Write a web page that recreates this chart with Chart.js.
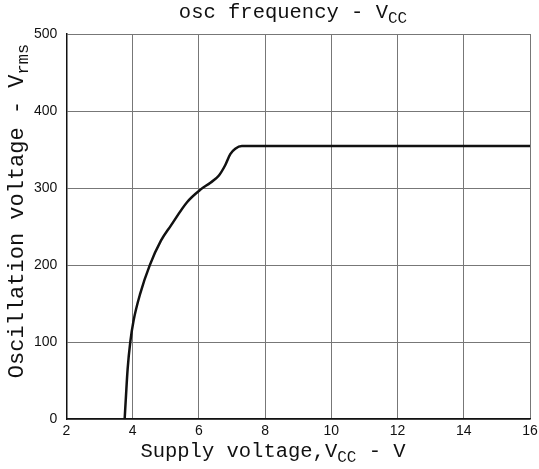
<!DOCTYPE html>
<html lang="en">
<head>
    <meta charset="UTF-8">
    <title>osc frequency - VCC</title>
    <script src="https://cdn.jsdelivr.net/npm/chart.js"></script>
    <style>
        body {
            margin: 0;
            background: white;
        }
        .container {
            width: 539px;
            height: 469px;
        }
    </style>
</head>
<body>
    <div class="container">
        <canvas id="oscChart"></canvas>
    </div>

    <script>
        // supply voltage (V) and oscillation voltage (Vrms)
        let supplyVoltage = [3.76, 3.80, 3.85, 3.93, 4.03, 4.23, 4.52, 4.86, 5.15, 5.65, 6.05, 6.35, 6.60, 6.80, 6.95, 7.10, 7.30, 8,     10,    12,    14,    16];
        let oscVoltage    = [0,    30,   65,   100,  128,  163,  200,  232,  251,  282,  298,  307,  316,  330,  344,  351,  354.5, 354.5, 354.5, 354.5, 354.5, 354.5];
        let xTicks = [2, 4, 6, 8, 10, 12, 14, 16];
        let yTicks = [0, 100, 200, 300, 400, 500];

        // titles with their subscript parts
        let chartTitle = [{ t: 'osc frequency - V' }, { t: 'CC', sub: true }];
        let xTitle = [{ t: 'Supply voltage,V' }, { t: 'CC', sub: true }, { t: ' - V' }];
        let yTitle = [{ t: 'Oscillation voltage - V' }, { t: 'rms', sub: true }];

        let points = supplyVoltage.map((v, i) => ({ x: v, y: oscVoltage[i] }));

        let mono = "'Liberation Mono', 'DejaVu Sans Mono', monospace";
        let tickFont = { family: "'Liberation Sans', Arial, sans-serif", size: 14 };

        function drawRich(ctx, parts, cx, cy, size) {
            let subSize = Math.round(size * 0.78);
            let widths = parts.map(p => {
                ctx.font = (p.sub ? subSize : size) + 'px ' + mono;
                return ctx.measureText(p.t).width;
            });
            let total = widths.reduce((a, b) => a + b, 0);
            let x = cx - total / 2;
            parts.forEach((p, i) => {
                ctx.font = (p.sub ? subSize : size) + 'px ' + mono;
                ctx.fillText(p.t, x, cy + (p.sub ? size * 0.28 : 0));
                x += widths[i];
            });
        }

        let titlePlugin = {
            id: 'richTitles',
            afterDraw(chart) {
                let c = chart.ctx;
                c.save();
                c.fillStyle = '#111';
                c.textBaseline = 'middle';
                c.textAlign = 'left';
                drawRich(c, chartTitle, 293, 13, 20.5);
                drawRich(c, xTitle, 273, 452, 20.5);
                c.translate(17, 211);
                c.rotate(-Math.PI / 2);
                drawRich(c, yTitle, 0, 0, 22);
                c.restore();
            }
        };

        let ctx = document.getElementById('oscChart').getContext('2d');
        let oscChart = new Chart(ctx, {
            type: 'scatter',
            data: {
                datasets: [{
                    data: points,
                    showLine: true,
                    borderColor: '#111',
                    borderWidth: 2.5,
                    pointRadius: 0,
                    cubicInterpolationMode: 'monotone'
                }]
            },
            options: {
                responsive: true,
                maintainAspectRatio: false,
                animation: false,
                layout: { padding: { left: 25, right: 9, top: 34, bottom: 25 } },
                plugins: {
                    legend: { display: false },
                    tooltip: { enabled: false }
                },
                scales: {
                    x: {
                        type: 'linear',
                        min: 2,
                        max: 16,
                        afterBuildTicks: axis => { axis.ticks = xTicks.map(v => ({ value: v })); },
                        afterFit: axis => { axis.paddingRight = 0; },
                        grid: { color: '#777', lineWidth: 1, drawTicks: false },
                        border: { color: '#111', width: 1.5 },
                        ticks: { color: '#111', font: tickFont, padding: 4 }
                    },
                    y: {
                        min: 0,
                        max: 500,
                        afterBuildTicks: axis => { axis.ticks = yTicks.map(v => ({ value: v })); },
                        grid: { color: '#777', lineWidth: 1, drawTicks: false },
                        border: { color: '#111', width: 1.5 },
                        ticks: { color: '#111', font: tickFont, padding: 9 }
                    }
                }
            },
            plugins: [titlePlugin]
        });
    </script>
</body>
</html>
